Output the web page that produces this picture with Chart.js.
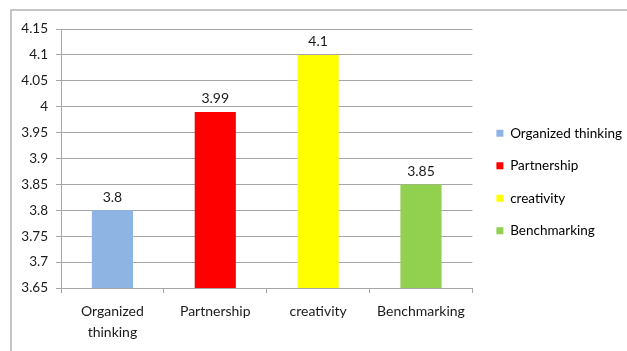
<!DOCTYPE html>
<html>
<head>
<meta charset="utf-8">
<script src="https://cdn.jsdelivr.net/npm/chart.js@4/dist/chart.umd.min.js"></script>
<style>
  html, body { margin: 0; padding: 0; background: #ffffff; }
  #wrap { position: relative; width: 627px; height: 351px; }
</style>
</head>
<body>
<div id="wrap"><canvas id="c" width="627" height="351"></canvas></div>
<script>
const categories = ["Organized thinking", "Partnership", "creativity", "Benchmarking"];
const values = [3.8, 3.99, 4.1, 3.85];
const barColors = ["#8DB4E2", "#FF0000", "#FFFF00", "#92D050"];
const yTickValues = [3.65, 3.7, 3.75, 3.8, 3.85, 3.9, 3.95, 4, 4.05, 4.1, 4.15];

const FONT = "Lato, 'Open Sans', sans-serif";
const GRID = "#a6a6a6";

const framePlugin = {
  id: 'frame',
  beforeDraw(chart) {
    const ctx = chart.ctx;
    ctx.save();
    ctx.strokeStyle = "#b4b4b4";
    ctx.lineWidth = 1.5;
    ctx.beginPath();
    ctx.moveTo(11, chart.height);
    ctx.lineTo(11, 10);
    ctx.lineTo(chart.width, 10);
    ctx.stroke();
    ctx.restore();
  }
};

const valueLabels = {
  id: 'valueLabels',
  afterDatasetsDraw(chart) {
    const ctx = chart.ctx;
    const meta = chart.getDatasetMeta(0);
    ctx.save();
    ctx.font = "14px " + FONT;
    ctx.fillStyle = "#1a1a1a";
    ctx.textAlign = "center";
    ctx.textBaseline = "middle";
    meta.data.forEach((bar, i) => {
      ctx.fillText(String(values[i]), bar.x, bar.y - 13);
    });
    ctx.restore();
  }
};

const legendShift = {
  id: 'legendShift',
  afterLayout(chart) {
    const lg = chart.legend;
    if (lg) { lg.left += 5; lg.right += 5; lg.top -= 8; lg.bottom -= 8; }
  }
};

new Chart(document.getElementById('c'), {
  type: 'bar',
  data: {
    labels: categories,
    datasets: [{
      data: values,
      backgroundColor: barColors,
      borderWidth: 0,
      barPercentage: 0.4,
      categoryPercentage: 1.0
    }]
  },
  plugins: [framePlugin, valueLabels, legendShift],
  options: {
    responsive: false,
    animation: false,
    devicePixelRatio: 1,
    layout: { padding: { left: 0, top: 29, right: 0, bottom: 0 } },
    plugins: {
      tooltip: { enabled: false },
      title: { display: false },
      legend: {
        position: 'right',
        align: 'center',
        labels: {
          boxWidth: 7,
          boxHeight: 7,
          padding: 19,
          color: "#1a1a1a",
          font: { family: FONT, size: 13.5 },
          generateLabels(chart) {
            return chart.data.labels.map((l, i) => ({
              text: l,
              fillStyle: barColors[i],
              strokeStyle: barColors[i],
              lineWidth: 0,
              hidden: false,
              index: i
            }));
          }
        },
        onClick: null
      }
    },
    scales: {
      x: {
        offset: true,
        grid: {
          display: true,
          drawOnChartArea: false,
          drawTicks: true,
          tickLength: 5,
          color: GRID,
          offset: true
        },
        border: { display: true, color: GRID, width: 1 },
        ticks: {
          color: "#1a1a1a",
          font: { family: FONT, size: 14, lineHeight: 1.5 },
          padding: 8,
          maxRotation: 0,
          autoSkip: false,
          callback(v) {
            const l = this.getLabelForValue(v);
            return l.indexOf(' ') >= 0 ? l.split(' ') : l;
          }
        },
        afterFit(scale) { scale.height = 63; }
      },
      y: {
        min: 3.65,
        max: 4.15,
        afterBuildTicks(scale) { scale.ticks = yTickValues.map(v => ({ value: v })); },
        grid: {
          color: GRID,
          lineWidth: 1,
          drawTicks: true,
          tickLength: 5
        },
        border: { display: true, color: GRID, width: 1 },
        ticks: {
          color: "#1a1a1a",
          font: { family: FONT, size: 13.5 },
          padding: 8,
          callback(v) { return String(v); }
        },
        afterFit(scale) { scale.width = 61; }
      }
    }
  }
});
</script>
</body>
</html>
